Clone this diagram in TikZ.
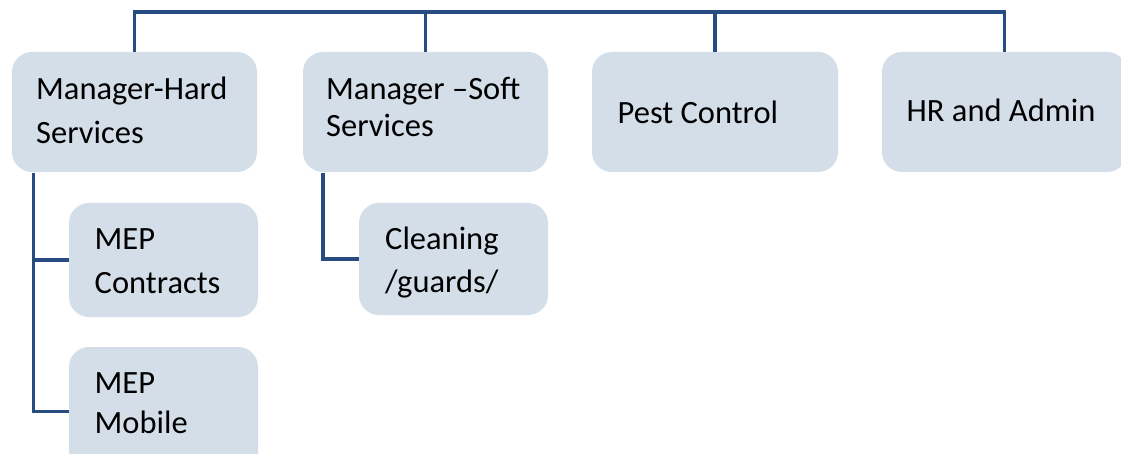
\documentclass[tikz,border=0pt]{standalone}
\usepackage{fontspec}
\setmainfont{Carlito}
\usetikzlibrary{calc}
\definecolor{lineblue}{RGB}{38,76,128}
\definecolor{boxfill}{RGB}{211,222,232}
\tikzset{
  box/.style={draw=none, fill=boxfill, rounded corners=20pt, inner sep=0pt},
  txt/.style={anchor=base west, inner sep=0pt, font=\fontsize{32.5}{38}\selectfont, text=black},
  conn/.style={draw=lineblue, line width=3.6pt}
}
\begin{document}
\begin{tikzpicture}[x=1pt,y=-1pt]
\clip (0,0) rectangle (1121,454);
\fill[white] (0,0) rectangle (1121,454);
% top-level boxes
\node[box, minimum width=245pt, minimum height=120pt] (hard) at (134.5,112) {};
\node[box, minimum width=245pt, minimum height=120pt] (soft) at (425.5,112) {};
\node[box, minimum width=246pt, minimum height=120pt] (pest) at (715,112) {};
\node[box, minimum width=245pt, minimum height=120pt] (hr) at (1004.5,112) {};
% child boxes
\node[box, minimum width=189pt, minimum height=114pt] (mepc) at (163.5,260) {};
\node[box, minimum width=189pt, minimum height=129pt] (mepm) at (163.5,411.5) {};
\node[box, minimum width=189pt, minimum height=112pt] (clean) at (453.5,259) {};
% texts
\node[txt] (hard1) at (36,99.3) {Manager-Hard};
\node[txt] (hard2) at (36,143.3) {Services};
\node[txt] (soft1) at (326,99.3) {Manager –Soft};
\node[txt] (soft2) at (326,136.7) {Services};
\node[txt] (pest1) at (617.5,123.3) {Pest Control};
\node[txt] (hr1) at (906.5,121.7) {HR and Admin};
\node[txt] (mepc1) at (94.5,249.3) {MEP};
\node[txt] (mepc2) at (94.5,293.3) {Contracts};
\node[txt] (mepm1) at (94.5,393.3) {MEP};
\node[txt] (mepm2) at (94.5,433) {Mobile};
\node[txt] (clean1) at (385,249.3) {Cleaning};
\node[txt] (clean2) at (385,292.7) {/guards/};
% connectors
\coordinate (bus) at (0,12);
\coordinate (hardstem) at (33.5,173);
\coordinate (softstem) at (323,173);
\draw[conn] (hard.north) -- (hard.north |- bus) -- (hr.north |- bus) -- (hr.north);
\draw[conn] (soft.north) -- (soft.north |- bus);
\draw[conn] (pest.north) -- (pest.north |- bus);
\draw[conn] (hardstem) |- (mepm.west);
\draw[conn] (hardstem |- mepc.west) -- (mepc.west);
\draw[conn] (softstem) |- (clean.west);
\end{tikzpicture}
\end{document}
